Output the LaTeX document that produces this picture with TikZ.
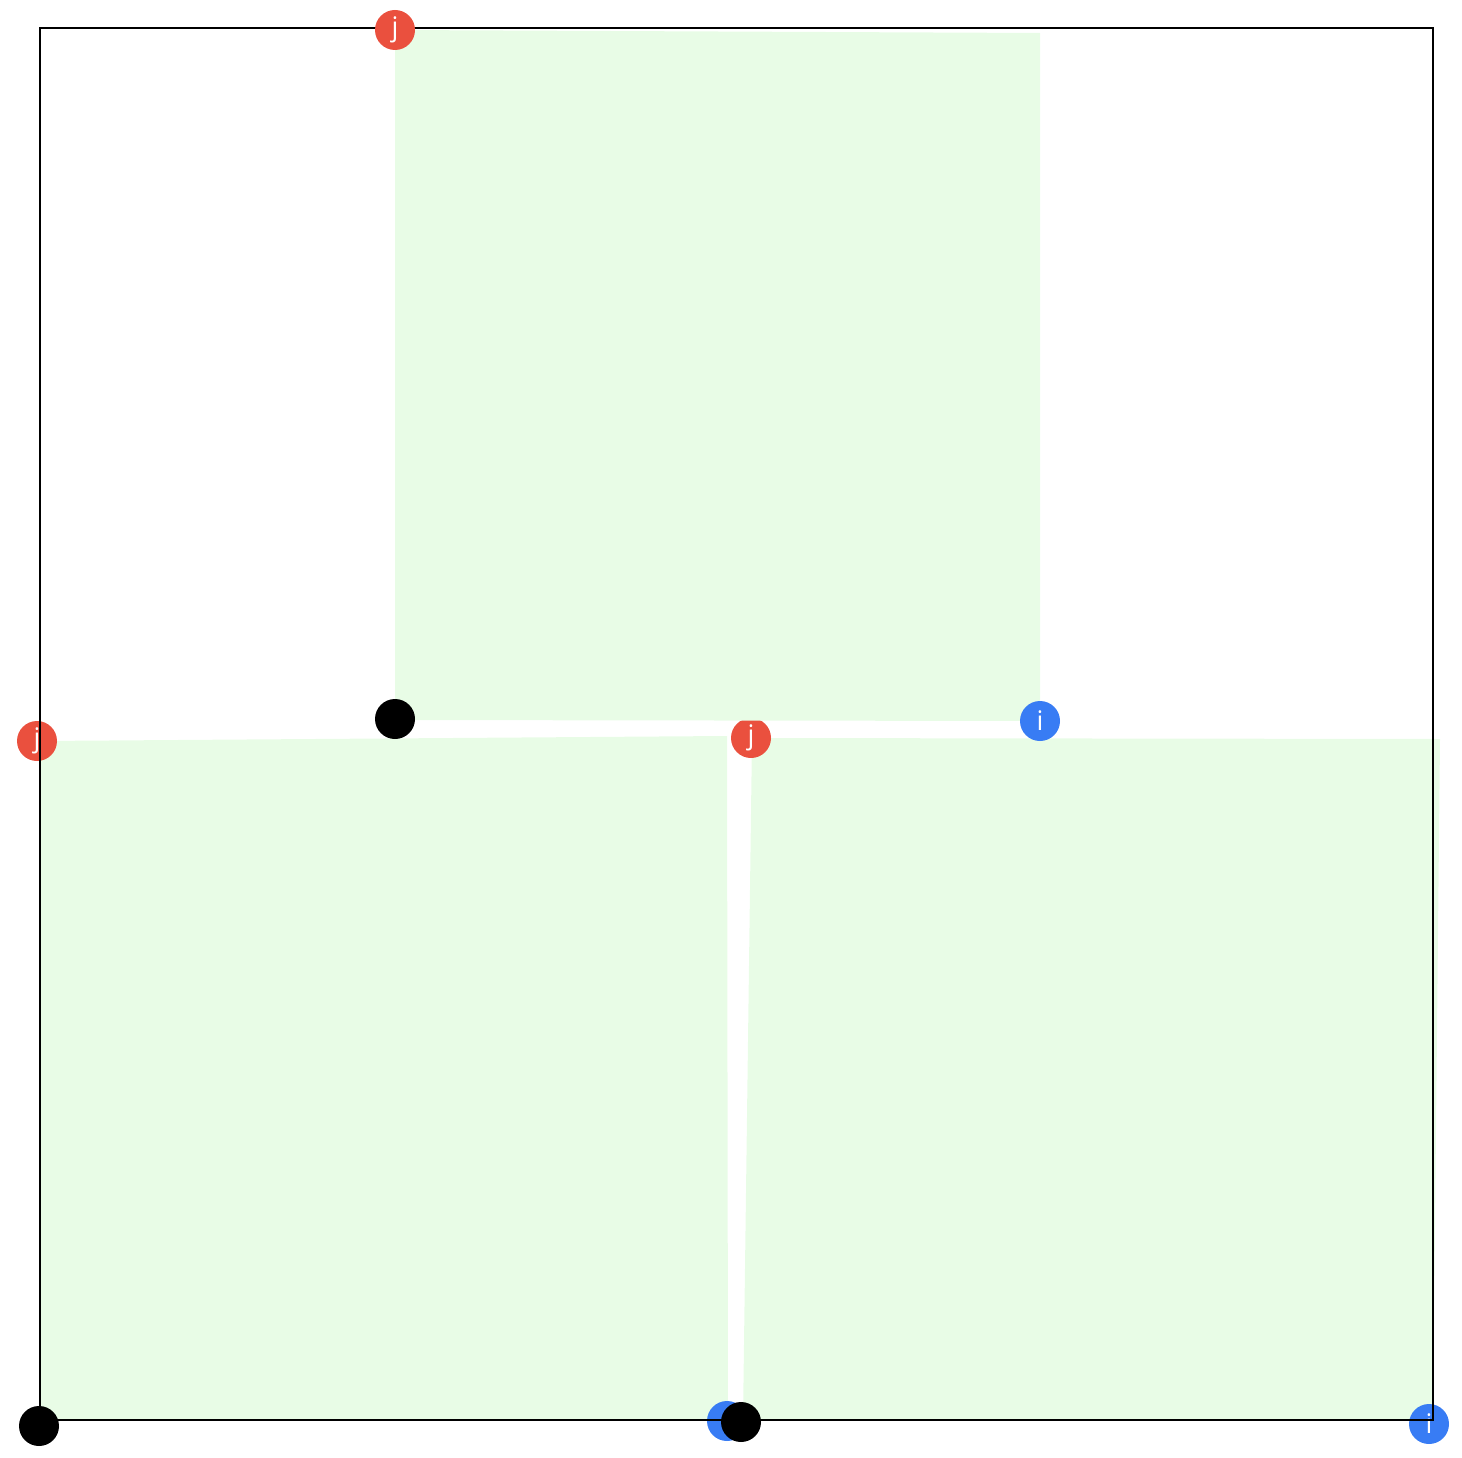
\documentclass[tikz,border=0pt]{standalone}
\usepackage{fontspec}
\setmainfont{Open Sans}
\definecolor{sqgreen}{RGB}{232,252,230}
\definecolor{jred}{RGB}{234,80,62}
\definecolor{iblue}{RGB}{56,124,244}
\begin{document}
\begin{tikzpicture}[x=1pt,y=-1pt,
  dotbase/.style={circle,minimum size=40pt,inner sep=0pt,text=white,font=\fontsize{27}{27}\selectfont},
  jdot/.style={dotbase,fill=jred},
  idot/.style={dotbase,fill=iblue},
  odot/.style={dotbase,fill=black}]
\useasboundingbox (0,0) rectangle (1462,1458);
% squares
\fill[sqgreen] (40,741) -- (727,736) -- (728,1420) -- (40,1420) -- cycle;
\fill[sqgreen] (752,738) -- (1440,739) -- (1433,1420) -- (743,1420) -- cycle;
% left and right i/j markers
\node[jdot] (lj) at (37,741) {j};
\node[idot] (li) at (727,1421) {i};
\node[jdot] (rj) at (751,738) {j};
\node[idot] (ri) at (1429,1424) {i};
% frame
\draw[line width=1.5pt] (40,28) rectangle (1433,1420);
% top square
\fill[sqgreen] (395,30) -- (1040,33) -- (1040,721) -- (395,720) -- cycle;
\node[jdot] (tj) at (395,30) {j};
\node[idot] (ti) at (1040,721) {i};
% origins
\node[odot] (to) at (395,719) {};
\node[odot] (lo) at (39,1426) {};
\node[odot] (ro) at (741,1422) {};
\end{tikzpicture}
\end{document}
